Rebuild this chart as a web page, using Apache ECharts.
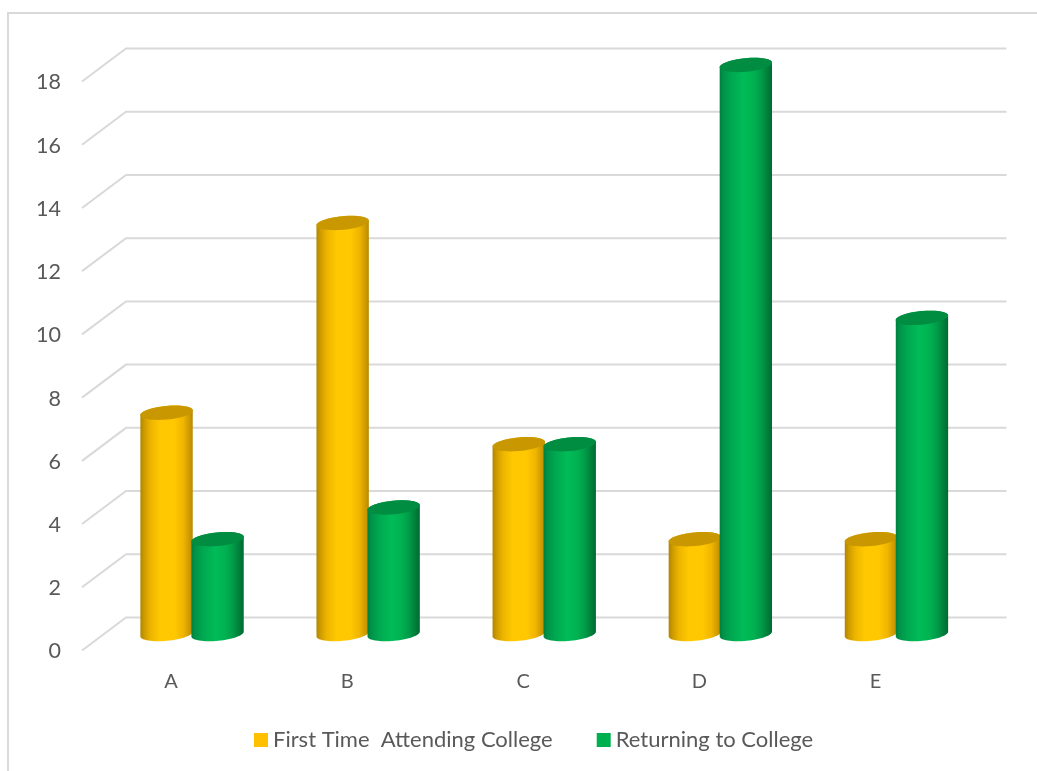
<!DOCTYPE html>
<html>
<head>
<meta charset="utf-8">
<style>html,body{margin:0;padding:0;background:#fff}#chart{width:1037px;height:771px}</style>
<script src="https://cdn.jsdelivr.net/npm/echarts@6/dist/echarts.min.js"></script>
</head>
<body>
<div id="chart"></div>
<script>
// Chart data
const categories = ['A', 'B', 'C', 'D', 'E'];
const firstTimeAttending = [7, 13, 6, 3, 3];
const returningToCollege = [3, 4, 6, 18, 10];
const gridTicks = [0, 2, 4, 6, 8, 10, 12, 14, 16, 18];

// Pseudo-3D depth of the plot box: the grid is the front plane
const DEPTH_X = 44, DEPTH_Y = -33;
const BAR_RX = 26.3, BAR_RY = 6.8, TILT = -5.5 * Math.PI / 180, BAR_SHIFT = 25.5;

function ellipsePoint(cx, cy, t) {
  return [
    cx + BAR_RX * Math.cos(t) * Math.cos(TILT) - BAR_RY * Math.sin(t) * Math.sin(TILT),
    cy + BAR_RX * Math.cos(t) * Math.sin(TILT) + BAR_RY * Math.sin(t) * Math.cos(TILT)
  ];
}

function sideGradient(stops) {
  return { type: 'linear', x: 0, y: 0, x2: 1, y2: 0,
    colorStops: stops.map(s => ({ offset: s[0], color: s[1] })) };
}

// A cylinder standing on the middle plane of the box
function cylinder(shift, sideStops, capColor) {
  return function (params, api) {
    const cat = api.value(0), val = api.value(1);
    const top = api.coord([cat, val]);
    const base = api.coord([cat, 0]);
    const cx = top[0] + DEPTH_X / 2 + shift;
    const topY = top[1] + DEPTH_Y / 2;
    const baseY = base[1] + DEPTH_Y / 2;
    const pts = [];
    for (let i = 0; i <= 32; i++) pts.push(ellipsePoint(cx, baseY, i / 32 * Math.PI));
    for (let i = 0; i <= 32; i++) pts.push(ellipsePoint(cx, topY, Math.PI + i / 32 * Math.PI));
    return {
      type: 'group',
      children: [
        { type: 'polygon', shape: { points: pts }, style: { fill: sideGradient(sideStops) } },
        { type: 'ellipse', x: cx, y: topY, rotation: -TILT,
          shape: { cx: 0, cy: 0, rx: BAR_RX, ry: BAR_RY }, style: { fill: capColor } }
      ]
    };
  };
}

// Wall grid lines: a diagonal on the side wall, then a run along the back wall
function wallLine(params, api) {
  const y = api.coord([0, api.value(0)])[1];
  const left = params.coordSys.x, right = left + params.coordSys.width;
  return {
    type: 'polyline',
    shape: { points: [[left, y], [left + DEPTH_X, y + DEPTH_Y], [right + DEPTH_X, y + DEPTH_Y]] },
    style: { stroke: '#D9D9D9', lineWidth: 2, fill: 'none' }
  };
}

const yellowSide = [[0, '#B08500'], [0.08, '#CF9C00'], [0.2, '#EDB500'], [0.38, '#FFC800'], [0.65, '#FFC800'], [0.82, '#EFB500'], [0.95, '#C89700'], [1, '#B58800']];
const greenSide = [[0, '#00803E'], [0.08, '#00944A'], [0.22, '#00A850'], [0.45, '#00BB58'], [0.65, '#00B152'], [0.8, '#009A47'], [0.93, '#007A3A'], [1, '#006A31']];

const chart = echarts.init(document.getElementById('chart'));
chart.setOption({
  animation: false,
  backgroundColor: '#ffffff',
  textStyle: { fontFamily: 'Lato', color: '#595959' },
  graphic: [{
    type: 'rect', silent: true, z: -1,
    shape: { x: 8, y: 13, width: 1100, height: 800 },
    style: { fill: 'none', stroke: '#D9D9D9', lineWidth: 2 }
  }],
  grid: { left: 82, top: 81.5, width: 880.5, height: 569 },
  xAxis: {
    type: 'category', data: categories,
    axisLine: { show: false }, axisTick: { show: false }, splitLine: { show: false },
    axisLabel: { color: '#595959', fontSize: 20, fontFamily: 'Lato', margin: 21, padding: [0, 0, 0, 2] }
  },
  yAxis: {
    type: 'value', min: 0, max: 18, interval: 2,
    axisLine: { show: false }, axisTick: { show: false }, splitLine: { show: false },
    axisLabel: { color: '#595959', fontSize: 21.5, fontFamily: 'Lato', margin: 21, verticalAlign: 'top', lineHeight: 2 }
  },
  legend: {
    left: 254, top: 729, padding: 0, itemWidth: 14, itemHeight: 14, itemGap: 44,
    icon: 'rect',
    data: ['First Time  Attending College', 'Returning to College'],
    textStyle: { color: '#595959', fontSize: 22, fontFamily: 'Lato' }
  },
  series: [
    { type: 'custom', name: 'walls', renderItem: wallLine, silent: true,
      encode: { y: 0 }, data: gridTicks.map(t => [t]), z: 1 },
    { type: 'custom', name: 'First Time  Attending College',
      itemStyle: { color: '#FFC000' }, z: 2,
      renderItem: cylinder(-BAR_SHIFT, yellowSide, '#C99700'),
      encode: { x: 0, y: 1 },
      data: firstTimeAttending.map((v, i) => [i, v]) },
    { type: 'custom', name: 'Returning to College',
      itemStyle: { color: '#00B050' }, z: 3,
      renderItem: cylinder(BAR_SHIFT, greenSide, '#008C41'),
      encode: { x: 0, y: 1 },
      data: returningToCollege.map((v, i) => [i, v]) }
  ]
});
</script>
</body>
</html>
